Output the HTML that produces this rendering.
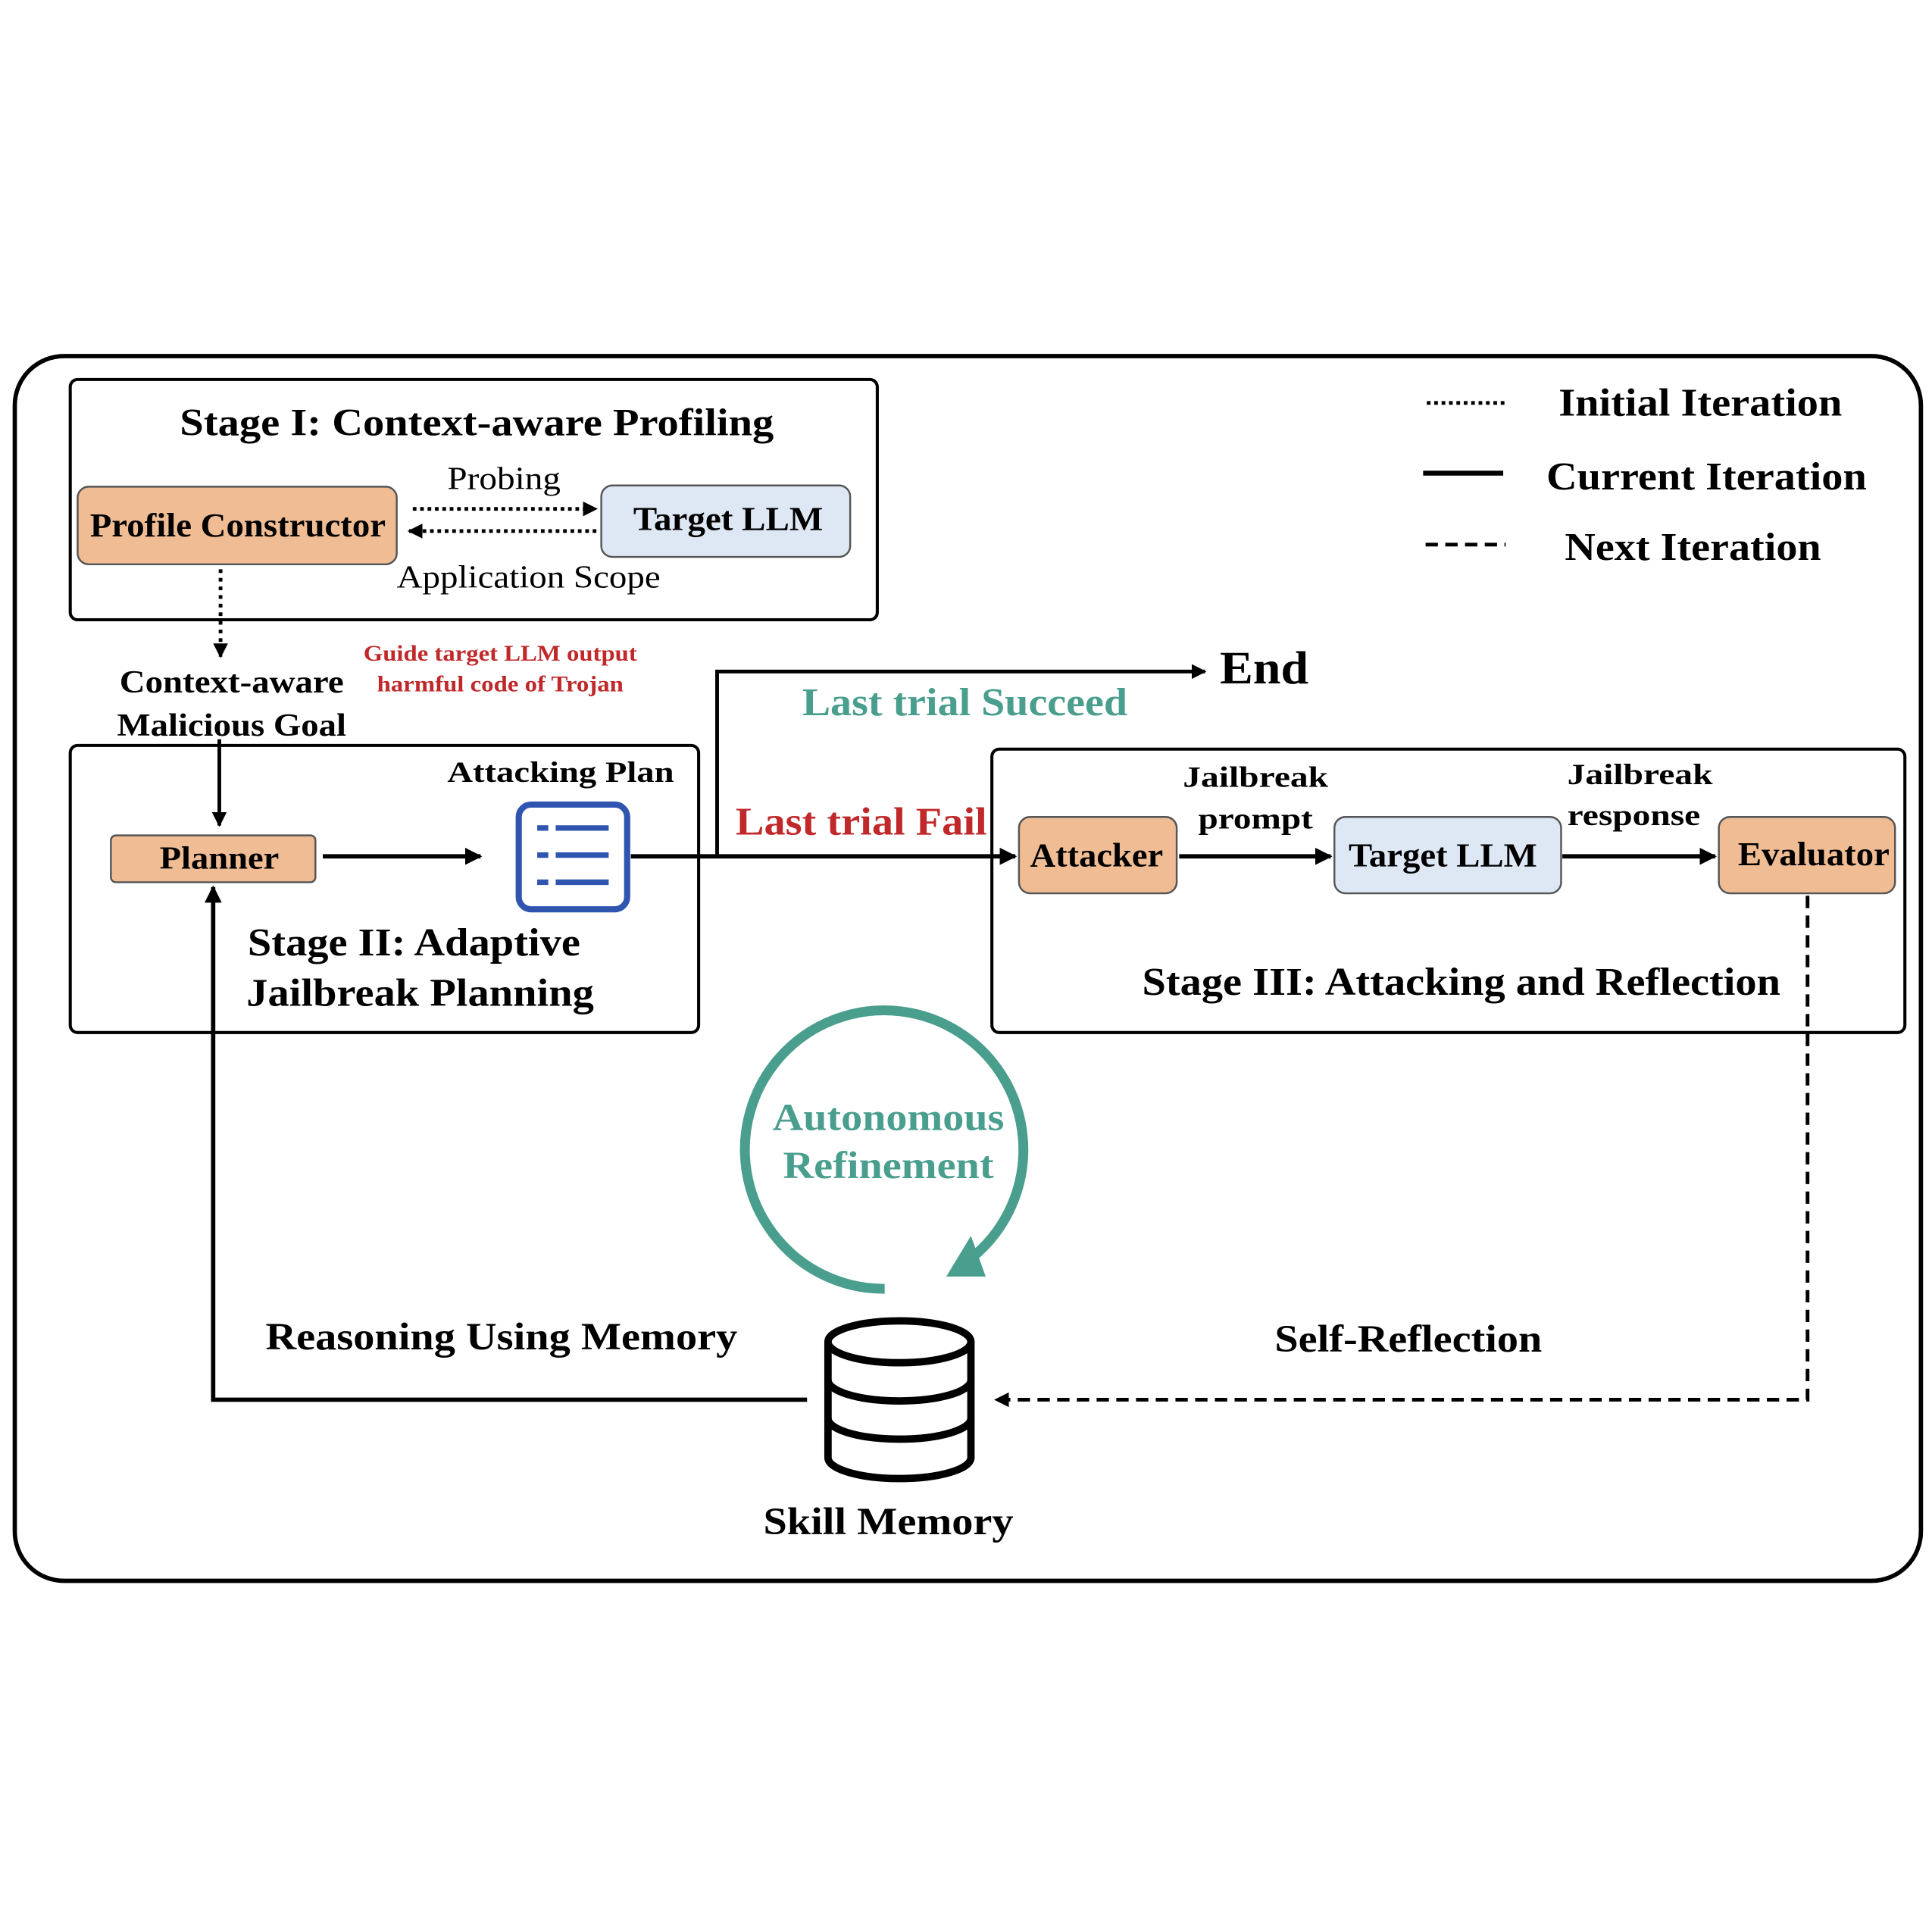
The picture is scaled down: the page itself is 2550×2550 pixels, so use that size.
<!DOCTYPE html>
<html><head><meta charset="utf-8"><style>
html,body{margin:0;padding:0;background:#fff}
svg{display:block}
text{font-family:"Liberation Serif",serif;font-weight:bold;text-anchor:middle;dominant-baseline:middle}
.r{font-weight:normal}
</style></head><body>
<svg width="2550" height="2550" viewBox="0 0 1568 1568" xmlns="http://www.w3.org/2000/svg">
<defs>
<marker id="a" viewBox="0 0 10 10" refX="9" refY="5" markerWidth="4" markerHeight="4" orient="auto-start-reverse" markerUnits="strokeWidth"><path d="M0,0L10,5L0,10z" fill="#000"/></marker>
</defs>
<rect width="1568" height="1568" fill="#fff"/>
<rect x="12" y="289" width="1547" height="994" rx="40" fill="none" stroke="#000" stroke-width="3.5"/>
<!-- Stage I -->
<rect x="57" y="308" width="655" height="195" rx="6" fill="none" stroke="#000" stroke-width="2.5"/>
<text x="387" y="346" font-size="31" textLength="482" lengthAdjust="spacingAndGlyphs">Stage I: Context-aware Profiling</text>
<rect x="63" y="395" width="259" height="63" rx="9" fill="#efbc94" stroke="#555" stroke-width="1.5"/>
<text x="193" y="429" font-size="27" textLength="240" lengthAdjust="spacingAndGlyphs">Profile Constructor</text>
<rect x="488" y="394" width="202" height="58" rx="9" fill="#dee8f4" stroke="#555" stroke-width="1.5"/>
<text x="591" y="424" font-size="27" textLength="154" lengthAdjust="spacingAndGlyphs">Target LLM</text>
<text x="409" y="391" font-size="26" class="r" textLength="92" lengthAdjust="spacingAndGlyphs">Probing</text>
<text x="429" y="471" font-size="26" class="r" textLength="214" lengthAdjust="spacingAndGlyphs">Application Scope</text>
<line x1="335" y1="413" x2="484" y2="413" stroke="#000" stroke-width="3" stroke-dasharray="3,3" marker-end="url(#a)"/>
<line x1="484" y1="431" x2="332" y2="431" stroke="#000" stroke-width="3" stroke-dasharray="3,3" marker-end="url(#a)"/>
<line x1="179" y1="462" x2="179" y2="533" stroke="#000" stroke-width="3" stroke-dasharray="3,4" marker-end="url(#a)"/>
<text x="188" y="556" font-size="26" textLength="182" lengthAdjust="spacingAndGlyphs">Context-aware</text>
<text x="188" y="591" font-size="26" textLength="186" lengthAdjust="spacingAndGlyphs">Malicious Goal</text>
<text x="406" y="532" font-size="18" fill="#c0282a" textLength="222" lengthAdjust="spacingAndGlyphs">Guide target LLM output</text>
<text x="406" y="557" font-size="18" fill="#c0282a" textLength="200" lengthAdjust="spacingAndGlyphs">harmful code of Trojan</text>
<!-- Stage II -->
<rect x="57" y="605" width="510" height="233" rx="6" fill="none" stroke="#000" stroke-width="2.5"/>
<line x1="178" y1="600" x2="178" y2="670" stroke="#000" stroke-width="3" marker-end="url(#a)"/>
<rect x="90" y="678" width="166" height="38" rx="4" fill="#efbc94" stroke="#555" stroke-width="1.5"/>
<text x="178" y="699" font-size="26" textLength="97" lengthAdjust="spacingAndGlyphs">Planner</text>
<line x1="262" y1="695" x2="390" y2="695" stroke="#000" stroke-width="3.5" marker-end="url(#a)"/>
<text x="455" y="629" font-size="24" textLength="184" lengthAdjust="spacingAndGlyphs">Attacking Plan</text>
<rect x="421" y="653" width="88" height="85" rx="10" fill="none" stroke="#2f55b0" stroke-width="5"/>
<g stroke="#2f55b0" stroke-width="4.5">
<line x1="436" y1="672" x2="445" y2="672"/><line x1="451" y1="672" x2="494" y2="672"/>
<line x1="436" y1="694" x2="445" y2="694"/><line x1="451" y1="694" x2="494" y2="694"/>
<line x1="436" y1="716" x2="445" y2="716"/><line x1="451" y1="716" x2="494" y2="716"/>
</g>
<text x="336" y="768" font-size="32" textLength="270" lengthAdjust="spacingAndGlyphs">Stage II: Adaptive</text>
<text x="341" y="809" font-size="32" textLength="282" lengthAdjust="spacingAndGlyphs">Jailbreak Planning</text>
<!-- flows -->
<line x1="512" y1="695" x2="824" y2="695" stroke="#000" stroke-width="3.5" marker-end="url(#a)"/>
<polyline points="582,695 582,545 978,545" fill="none" stroke="#000" stroke-width="3" marker-end="url(#a)"/>
<text x="1026" y="546" font-size="38" textLength="72" lengthAdjust="spacingAndGlyphs">End</text>
<text x="783" y="573" font-size="32" fill="#4a9e8e" textLength="264" lengthAdjust="spacingAndGlyphs">Last trial Succeed</text>
<text x="699" y="670" font-size="32" fill="#c0282a" textLength="204" lengthAdjust="spacingAndGlyphs">Last trial Fail</text>
<!-- Stage III -->
<rect x="805" y="608" width="741" height="230" rx="6" fill="none" stroke="#000" stroke-width="2.5"/>
<rect x="827" y="663" width="128" height="62" rx="9" fill="#efbc94" stroke="#555" stroke-width="1.5"/>
<text x="890" y="697" font-size="27" textLength="108" lengthAdjust="spacingAndGlyphs">Attacker</text>
<rect x="1083" y="663" width="184" height="62" rx="9" fill="#dee8f4" stroke="#555" stroke-width="1.5"/>
<text x="1171" y="697" font-size="27" textLength="153" lengthAdjust="spacingAndGlyphs">Target LLM</text>
<rect x="1395" y="663" width="143" height="62" rx="9" fill="#efbc94" stroke="#555" stroke-width="1.5"/>
<text x="1472" y="696" font-size="27" textLength="123" lengthAdjust="spacingAndGlyphs">Evaluator</text>
<text x="1019" y="633" font-size="24" textLength="118" lengthAdjust="spacingAndGlyphs">Jailbreak</text>
<text x="1019" y="667" font-size="24" textLength="93" lengthAdjust="spacingAndGlyphs">prompt</text>
<text x="1331" y="631" font-size="24" textLength="118" lengthAdjust="spacingAndGlyphs">Jailbreak</text>
<text x="1326" y="664" font-size="24" textLength="108" lengthAdjust="spacingAndGlyphs">response</text>
<line x1="957" y1="695" x2="1080" y2="695" stroke="#000" stroke-width="3.5" marker-end="url(#a)"/>
<line x1="1268" y1="695" x2="1392" y2="695" stroke="#000" stroke-width="3.5" marker-end="url(#a)"/>
<text x="1186" y="800" font-size="32" textLength="518" lengthAdjust="spacingAndGlyphs">Stage III: Attacking and Reflection</text>
<polyline points="1467,727 1467,1136 808,1136" fill="none" stroke="#000" stroke-width="3" stroke-dasharray="10,6" marker-end="url(#a)"/>
<text x="1143" y="1090" font-size="31" textLength="217" lengthAdjust="spacingAndGlyphs">Self-Reflection</text>
<!-- legend -->
<line x1="1158" y1="327" x2="1224" y2="327" stroke="#000" stroke-width="3" stroke-dasharray="3,3"/>
<line x1="1155" y1="384" x2="1220" y2="384" stroke="#000" stroke-width="4"/>
<line x1="1157" y1="442" x2="1222" y2="442" stroke="#000" stroke-width="3" stroke-dasharray="10,6"/>
<text x="1380" y="330" font-size="32" textLength="230" lengthAdjust="spacingAndGlyphs">Initial Iteration</text>
<text x="1385" y="390" font-size="32" textLength="260" lengthAdjust="spacingAndGlyphs">Current Iteration</text>
<text x="1374" y="447" font-size="32" textLength="208" lengthAdjust="spacingAndGlyphs">Next Iteration</text>
<!-- refinement circle -->
<path d="M718,1046 A113,113 0 1 1 792,1018" fill="none" stroke="#4a9e8e" stroke-width="8"/>
<path d="M768,1036 L800,1036 L788,1003 z" fill="#4a9e8e"/>
<text x="721" y="910" font-size="31" fill="#4a9e8e" textLength="188" lengthAdjust="spacingAndGlyphs">Autonomous</text>
<text x="721" y="949" font-size="31" fill="#4a9e8e" textLength="171" lengthAdjust="spacingAndGlyphs">Refinement</text>
<!-- database -->
<g fill="none" stroke="#000" stroke-width="6">
<ellipse cx="730" cy="1089" rx="58" ry="17"/>
<path d="M672,1089 V1183 A58,17 0 0 0 788,1183 V1089"/>
<path d="M672,1120 A58,17 0 0 0 788,1120"/>
<path d="M672,1151 A58,17 0 0 0 788,1151"/>
</g>
<text x="721" y="1238" font-size="31" textLength="203" lengthAdjust="spacingAndGlyphs">Skill Memory</text>
<polyline points="655,1136 173,1136 173,720" fill="none" stroke="#000" stroke-width="3.5" marker-end="url(#a)"/>
<text x="407" y="1088" font-size="31" textLength="383" lengthAdjust="spacingAndGlyphs">Reasoning Using Memory</text>
</svg>
</body></html>
